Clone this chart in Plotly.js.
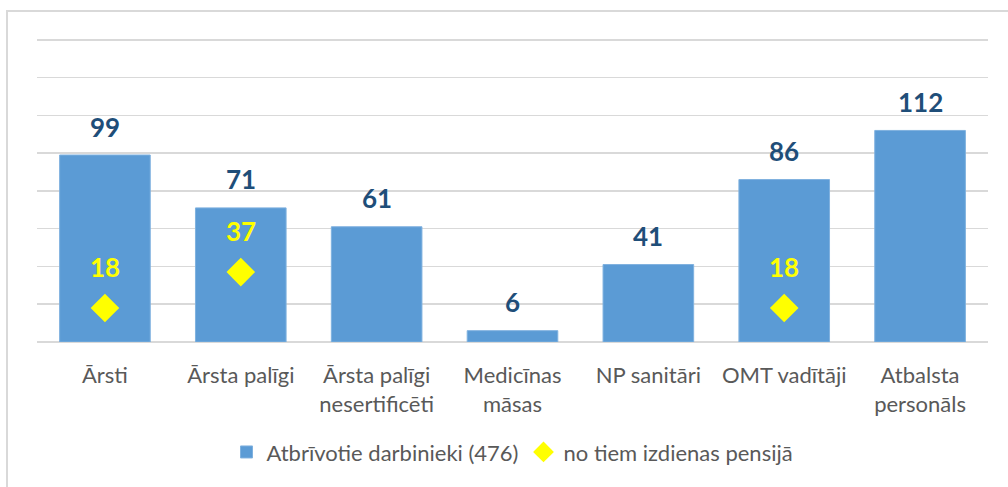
<!DOCTYPE html>
<html>
<head>
<meta charset="utf-8">
<script src="https://cdn.plot.ly/plotly-3.0.1.min.js"></script>
<style>
  html, body { margin: 0; padding: 0; background: #fff; }
  #wrap { position: relative; width: 1008px; height: 487px; overflow: hidden; }
  #chart { position: absolute; left: 0; top: 0; width: 1008px; height: 487px; }
  #frame { position: absolute; left: 6px; top: 10px; width: 1010px; height: 490px;
           border-top: 2px solid #d9d9d9; border-left: 2px solid #d9d9d9; pointer-events: none; }
</style>
</head>
<body>
<div id="wrap">
  <div id="chart"></div>
  <div id="frame"></div>
</div>
<script>
const categories = ["Ārsti", "Ārsta palīgi", "Ārsta palīgi<br>nesertificēti", "Medicīnas<br>māsas", "NP sanitāri", "OMT vadītāji", "Atbalsta<br>personāls"];
const dismissed = [99, 71, 61, 6, 41, 86, 112];
const retired = [18, 37, null, null, null, 18, null];
const seriesNames = ["Atbrīvotie darbinieki (476)", "no tiem izdienas pensijā"];
const gridVals = [0, 20, 40, 60, 80, 100, 120, 140, 160];

const font = "Lato, 'Open Sans', sans-serif";

const traces = [
  {
    type: "bar",
    x: categories,
    y: dismissed,
    name: seriesNames[0],
    marker: { color: "#5B9BD5", line: { color: "#7FB1DF", width: 1 } },
    width: 0.667,
    hoverinfo: "skip"
  },
  {
    type: "scatter",
    mode: "markers",
    x: categories,
    y: retired,
    name: seriesNames[1],
    marker: { symbol: "diamond", color: "#FFFF00", size: 22 },
    hoverinfo: "skip"
  }
];

const annotations = [];
categories.forEach((c, i) => {
  annotations.push({
    x: c, y: dismissed[i], xref: "x", yref: "y",
    text: String(dismissed[i]), showarrow: false,
    yshift: 28.5, yanchor: "middle",
    font: { family: font, size: 26, color: "#1F4E79", weight: "bold" }
  });
  if (retired[i] !== null) {
    annotations.push({
      x: c, y: retired[i], xref: "x", yref: "y",
      text: String(retired[i]), showarrow: false,
      yshift: 41.5, yanchor: "middle",
      font: { family: font, size: 26, color: "#FFFF00", weight: "bold" }
    });
  }
});

const layout = {
  width: 1008, height: 487,
  margin: { l: 37, r: 20, t: 36, b: 145 },
  paper_bgcolor: "rgba(0,0,0,0)",
  plot_bgcolor: "#fff",
  showlegend: true,
  legend: {
    orientation: "h", x: 0.5, xanchor: "center", y: -0.36, yanchor: "middle",
    font: { family: font, size: 22, color: "#595959" },
    itemwidth: 30, tracegroupgap: 0
  },
  xaxis: {
    type: "category",
    showgrid: false, showline: false, zeroline: false,
    ticks: "",
    ticklabelstandoff: 18,
    tickfont: { family: font, size: 22, color: "#595959" },
    fixedrange: true
  },
  yaxis: {
    range: [0, 162], tickvals: gridVals,
    showticklabels: false,
    gridcolor: "#d9d9d9", gridwidth: 1.5,
    zeroline: true, zerolinecolor: "#d9d9d9", zerolinewidth: 1.5,
    fixedrange: true
  },
  annotations: annotations,
  bargap: 0.333
};

Plotly.newPlot("chart", traces, layout, { displayModeBar: false, staticPlot: true });
</script>
</body>
</html>
